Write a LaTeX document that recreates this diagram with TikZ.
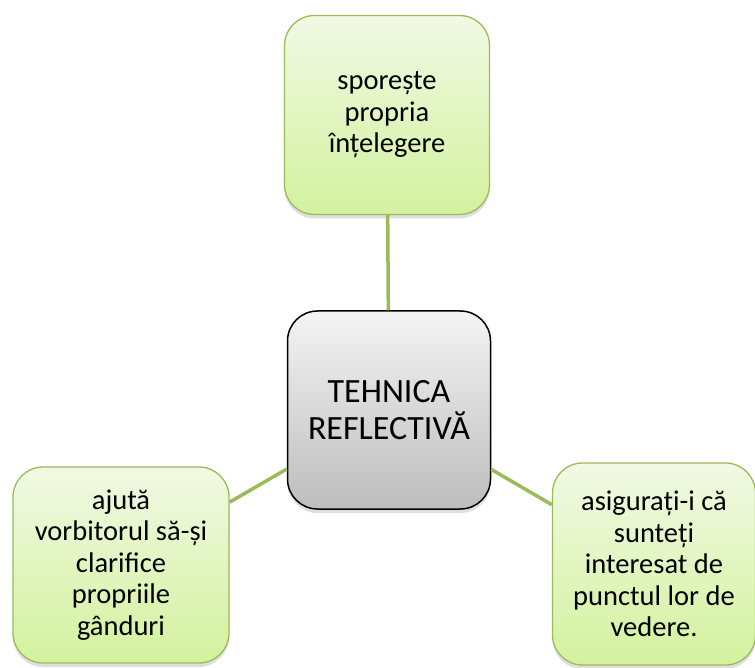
\documentclass[tikz,border=0pt]{standalone}
\usepackage{fontspec}
\setmainfont{Carlito}
\usetikzlibrary{shadows}

\definecolor{leafline}{HTML}{9BBB59}
\definecolor{leaftop}{HTML}{F1F9E4}
\definecolor{leafbot}{HTML}{D3F29E}
\definecolor{hubtop}{HTML}{F4F4F4}
\definecolor{hubbot}{HTML}{BDBDBD}

\tikzset{
  leaf/.style={draw=leafline, line width=1.3pt, rounded corners=30pt,
    top color=leaftop, bottom color=leafbot, align=center, inner sep=0pt,
    font=\fontsize{28.5}{31.5}\selectfont,
    drop shadow={shadow xshift=0pt, shadow yshift=-4pt, opacity=0.25}},
  hub/.style={draw=black, line width=1.5pt, rounded corners=30pt,
    top color=hubtop, bottom color=hubbot, align=center, inner sep=0pt,
    font=\fontsize{34}{37}\selectfont,
    drop shadow={shadow xshift=0pt, shadow yshift=-4pt, opacity=0.25}},
  link/.style={draw=leafline, line width=3.5pt}
}

\begin{document}
\begin{tikzpicture}[x=1pt, y=-1pt]
\useasboundingbox (0,0) rectangle (755,668);

% Draw the centre box
\node[hub, minimum width=203pt, minimum height=198pt] (tehnica) at (389,410)
  {TEHNICA\\REFLECTIVĂ};

% Draw the outer boxes
\node[leaf, minimum width=205pt, minimum height=199pt] (sporeste) at (387,115)
  {sporește\\propria\\înțelegere};
\node[leaf, minimum width=216pt, minimum height=196pt] (ajuta) at (121,565)
  {ajută\\vorbitorul să-și\\clarifice\\propriile\\gânduri};
\node[leaf, minimum width=203pt, minimum height=202pt] (asigurati) at (654,564)
  {asigurați-i că\\sunteți\\interesat de\\punctul lor de\\vedere.};

% Draw the links to the centre
\foreach \n in {sporeste, ajuta, asigurati} {
    \draw[link] (\n) -- (tehnica);
}

\end{tikzpicture}
\end{document}
